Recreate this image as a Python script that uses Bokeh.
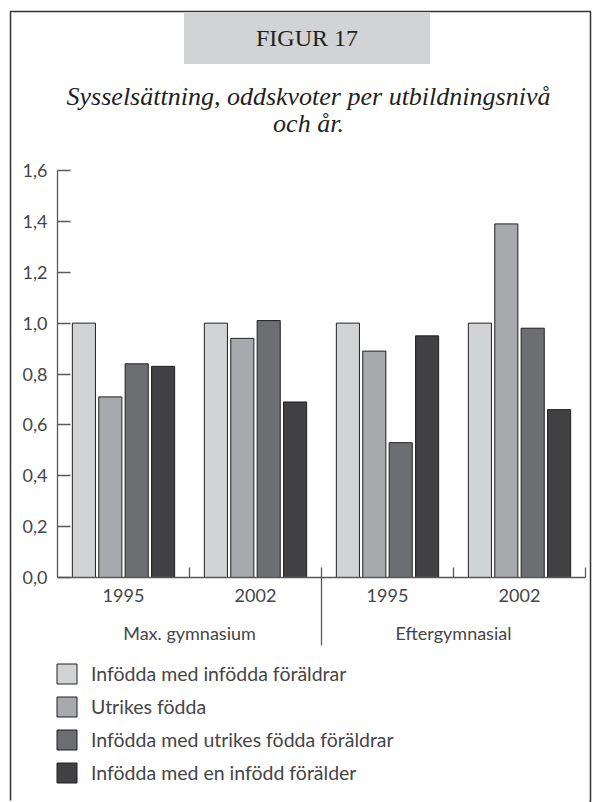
from bokeh.plotting import figure
from bokeh.models import (Range1d, LinearAxis, FixedTicker, CustomJSTickFormatter,
                          Label, Legend, LegendItem, ColumnDataSource)
from bokeh.embed import file_html
from bokeh.resources import INLINE

# ---------------- data ----------------
figure_label = "FIGUR 17"
subtitle_lines = ["Sysselsättning, oddskvoter per utbildningsnivå", "och år."]
groups = ["Max. gymnasium", "Eftergymnasial"]
years = ["1995", "2002", "1995", "2002"]
series_names = ["Infödda med infödda föräldrar", "Utrikes födda",
                "Infödda med utrikes födda föräldrar", "Infödda med en infödd förälder"]
infodda_infodda_foraldrar = [1.00, 1.00, 1.00, 1.00]
utrikes_fodda = [0.71, 0.94, 0.89, 1.39]
infodda_utrikes_foraldrar = [0.84, 1.01, 0.53, 0.98]
infodda_en_infodd = [0.83, 0.69, 0.95, 0.66]
y_ticks = [0.0, 0.2, 0.4, 0.6, 0.8, 1.0, 1.2, 1.4, 1.6]

# ---------------- style ----------------
colors = ["#d1d3d4", "#a7a9ac", "#6d6e71", "#414042"]
outline = "#231f20"
axis_col = "#58595b"
txt_col = "#454547"
SANS = "Lato"
SERIF = "Liberation Serif"

W, H = 592, 802
BL, BR, BT, BB = 10, 2, 11, 0
FW, FH = W - BL - BR, H - BT - BB
PX_X = 132.0          # pixels per category slot
PX_Y = 407.0 / 1.6    # pixels per unit value


def dx(px):
    return (px - 57) / PX_X


def dy(py):
    return (577 - py) / PX_Y


p = figure(width=W, height=H, output_backend="svg", toolbar_location=None, tools="",
           x_axis_type=None, y_axis_type=None,
           x_range=Range1d(dx(BL), dx(W - BR)), y_range=Range1d(dy(H - BB), dy(BT)),
           min_border_left=BL, min_border_right=BR, min_border_top=BT, min_border_bottom=BB)
p.outline_line_color = "#333333"
p.outline_line_width = 1.5
# draw top, right and left sides only (no bottom edge, as in the reference)
p.outline_line_dash = f"{FW + FH} {FW} {FH + 20}"
p.background_fill_color = "white"
p.border_fill_color = "white"

# ---------------- bars ----------------
series_vals = [infodda_infodda_foraldrar, utrikes_fodda, infodda_utrikes_foraldrar, infodda_en_infodd]
offsets = [-0.3, -0.1, 0.1, 0.3]
renderers = []
for k, vals in enumerate(series_vals):
    src = ColumnDataSource(dict(x=[i + 0.5 + offsets[k] for i in range(len(years))], top=vals))
    r = p.vbar(x="x", top="top", width=0.175, bottom=0, source=src,
               fill_color=colors[k], line_color=outline, line_width=1)
    renderers.append(r)

# ---------------- y axis ----------------
yax = LinearAxis(fixed_location=0, bounds=(0, 1.6), ticker=FixedTicker(ticks=y_ticks),
                 formatter=CustomJSTickFormatter(code="return tick.toFixed(1).replace('.', ',')"))
yax.major_tick_in = 13
yax.major_tick_out = 0
yax.minor_tick_line_color = None
yax.axis_line_color = axis_col
yax.major_tick_line_color = axis_col
yax.axis_line_width = 1.3
yax.major_tick_line_width = 1.3
yax.major_label_standoff = 10
yax.major_label_text_font = SANS
yax.major_label_text_font_size = "18px"
yax.major_label_text_color = txt_col
p.add_layout(yax, "left")

# ---------------- x axes ----------------
n = len(years)
xax = LinearAxis(fixed_location=0, bounds=(0, n), ticker=FixedTicker(ticks=[1, 3, 4]))
xax.major_tick_in = 10
xax.major_tick_out = 0
xax.minor_tick_line_color = None
xax.axis_line_color = axis_col
xax.major_tick_line_color = axis_col
xax.axis_line_width = 1.3
xax.major_tick_line_width = 1.3
xax.major_label_text_color = None
p.add_layout(xax, "below")

div_ax = LinearAxis(fixed_location=0, ticker=FixedTicker(ticks=[2]))
div_ax.major_tick_in = 10
div_ax.major_tick_out = 68
div_ax.minor_tick_line_color = None
div_ax.axis_line_color = None
div_ax.major_tick_line_color = axis_col
div_ax.major_tick_line_width = 1.3
div_ax.major_label_text_color = None
p.add_layout(div_ax, "below")

year_ax = LinearAxis(fixed_location=0, ticker=FixedTicker(ticks=[i + 0.5 for i in range(n)]),
                     major_label_overrides={i + 0.5: years[i] for i in range(n)})
year_ax.major_tick_in = 0
year_ax.major_tick_out = 0
year_ax.minor_tick_line_color = None
year_ax.axis_line_color = None
year_ax.major_tick_line_color = None
year_ax.major_label_standoff = 11
year_ax.major_label_text_font = SANS
year_ax.major_label_text_font_size = "18px"
year_ax.major_label_text_color = txt_col
p.add_layout(year_ax, "below")

grp_ax = LinearAxis(fixed_location=0, ticker=FixedTicker(ticks=[1.0 + 2 * g for g in range(len(groups))]),
                    major_label_overrides={1.0 + 2 * g: groups[g] for g in range(len(groups))})
grp_ax.major_tick_in = 0
grp_ax.major_tick_out = 0
grp_ax.minor_tick_line_color = None
grp_ax.axis_line_color = None
grp_ax.major_tick_line_color = None
grp_ax.major_label_standoff = 44
grp_ax.major_label_text_font = SANS
grp_ax.major_label_text_font_size = "18px"
grp_ax.major_label_text_color = txt_col
p.add_layout(grp_ax, "below")

# ---------------- header ----------------
head = Label(x=dx(306.5), y=dy(37.5), text=figure_label, text_align="center", text_baseline="middle",
             text_font=SERIF, text_font_size="24px", text_color="#231f20",
             background_fill_color="#d1d3d4", padding=(72, 72, 13, 13))
p.add_layout(head)
for i, line in enumerate(subtitle_lines):
    p.add_layout(Label(x=dx(308), y=dy(96 + 27 * i), text=line, text_align="center",
                       text_baseline="middle", text_font=SERIF, text_font_style="italic",
                       text_font_size="26px", text_color="#231f20"))

# ---------------- legend ----------------
legend = Legend(items=[LegendItem(label=series_names[k], renderers=[renderers[k]]) for k in range(4)],
                location=(44, 17), orientation="vertical", glyph_width=25, glyph_height=25,
                spacing=8, label_standoff=12, padding=0, margin=0,
                border_line_color=None, background_fill_alpha=0,
                label_text_font=SANS, label_text_font_size="19.5px", label_text_color=txt_col)
p.add_layout(legend)

open("out.html", "w").write(file_html(p, INLINE))
